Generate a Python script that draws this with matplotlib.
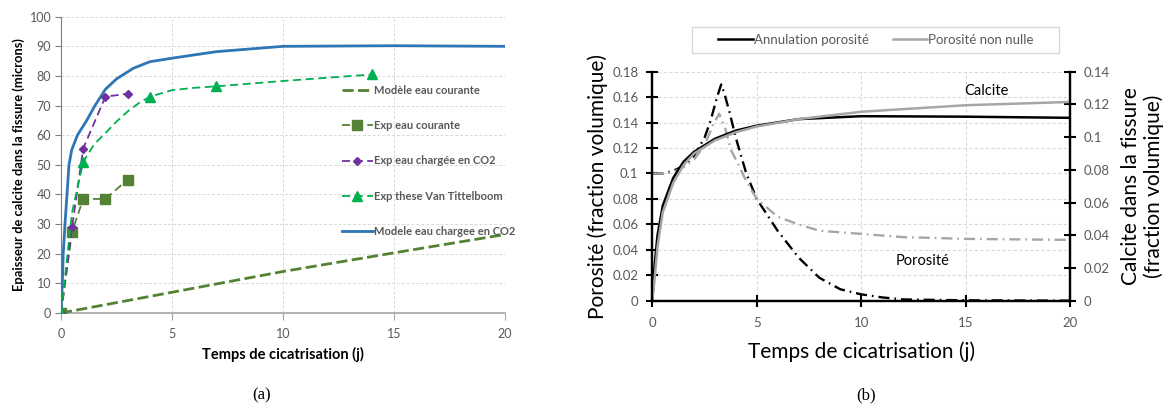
import matplotlib
matplotlib.use('Agg')
import matplotlib.pyplot as plt
from matplotlib.patches import Rectangle
from matplotlib.ticker import FuncFormatter

plt.rcParams['font.family'] = ['Lato', 'DejaVu Sans']

# ---- panel (a) data: calcite thickness (microns) vs time (days)
mod_courante_x = [0, 5, 10, 15, 20]
mod_courante_y = [0, 7, 14, 20.3, 26.5]

exp_courante_x = [0, 0.5, 1, 2, 3]
exp_courante_y = [0, 27.5, 38.5, 38.5, 45]

exp_co2_x = [0, 0.5, 1, 2, 3]
exp_co2_y = [0, 29, 55.5, 73, 74]

vt_x = [0, 0.5, 1, 1.5, 2, 2.5, 3, 3.5, 4, 5, 6, 7, 10, 14]
vt_y = [0, 34, 51, 57, 60.7, 64.6, 68, 70.8, 73, 75.2, 76, 76.5, 78.3, 80.5]
vt_marked = [0, 2, 8, 11, 13]

mod_co2_x = [0, 0.06, 0.1, 0.18, 0.27, 0.36, 0.48, 0.74, 1.16, 1.53, 2, 2.5,
             3.26, 4, 5, 7, 10, 15, 20]
mod_co2_y = [0, 10, 20, 30, 40, 50, 55, 60, 65, 70, 75.5, 79,
             82.6, 84.8, 86, 88.2, 90, 90.2, 90]

# ---- panel (b) data
# porosity (left axis)
por_annul_x = [0, 0.5, 1, 1.5, 2, 2.5, 2.8, 3.1, 3.3, 3.45, 3.7, 4, 4.5, 5,
               6, 7, 8, 9, 10, 11, 12, 15, 20]
por_annul_y = [0.1, 0.1, 0.102, 0.106, 0.114, 0.128, 0.142, 0.16, 0.17, 0.163,
               0.148, 0.128, 0.1, 0.08, 0.055, 0.034, 0.018, 0.009, 0.005,
               0.0026, 0.001, 0.0003, 0.0]
por_nonnul_x = [0, 0.5, 1, 1.5, 2, 2.5, 2.9, 3.2, 3.5, 3.75, 4, 4.5, 5, 6, 7,
                8, 10, 12, 15, 20]
por_nonnul_y = [0.1, 0.1, 0.101, 0.105, 0.111, 0.122, 0.138, 0.147, 0.135,
                0.119, 0.111, 0.094, 0.08, 0.066, 0.060, 0.055, 0.0525, 0.050,
                0.0486, 0.0478]
# calcite (right axis)
calc_x = [0, 0.1, 0.25, 0.5, 1, 1.5, 2, 3, 4, 5, 7, 10, 15, 20]
calc_annul_y = [0, 0.02, 0.04, 0.058, 0.075, 0.085, 0.091, 0.099, 0.104,
                0.107, 0.111, 0.1128, 0.1125, 0.1118]
calc_nonnul_y = [0, 0.012, 0.033, 0.054, 0.072, 0.083, 0.09, 0.098, 0.103,
                 0.1065, 0.111, 0.1155, 0.1195, 0.1215]

W, H = 1164, 408
fig = plt.figure(figsize=(W / 100, H / 100), dpi=100)


def box(l, t, r, b):
    return [l / W, 1 - b / H, (r - l) / W, (b - t) / H]


txtgray = '#595959'
olive = '#548235'
purple = '#7030A0'
green = '#00B050'
blue = '#2E75B6'

# ================= panel (a)
ax = fig.add_axes(box(61, 16.7, 505, 313))
ax.plot(mod_courante_x, mod_courante_y, color=olive, lw=2, ls=(0, (4, 1.6)),
        label='Modèle eau courante', zorder=3)
ax.plot(exp_courante_x, exp_courante_y, color=olive, lw=1.3, ls=(0, (4.5, 2.5)),
        marker='s', ms=6.5, label='Exp eau courante', zorder=4)
ax.plot(exp_co2_x, exp_co2_y, color=purple, lw=1.3, ls=(0, (4.5, 2.5)),
        marker='D', ms=4.5, label='Exp eau chargée en CO2', zorder=4)
ax.plot(vt_x, vt_y, color=green, lw=1.3, ls=(0, (4.5, 2.5)),
        marker='^', ms=7.5, markevery=vt_marked,
        label='Exp these Van Tittelboom', zorder=4)
ax.plot(mod_co2_x, mod_co2_y, color=blue, lw=2, label='Modele eau chargee en CO2',
        zorder=3)

ax.set_xlim(0, 20)
ax.set_ylim(0, 100)
ax.set_xticks([0, 5, 10, 15, 20])
ax.set_yticks(range(0, 101, 10))
ax.grid(True, color='#D9D9D9', ls=(0, (3, 2)), lw=0.7)
ax.set_axisbelow(True)
for s in ['top', 'right']:
    ax.spines[s].set_visible(False)
ax.spines['left'].set_color('#7F7F7F')
ax.spines['bottom'].set_color('#A6A6A6')
ax.spines['bottom'].set_linewidth(1.2)
ax.tick_params(axis='x', direction='out', length=5, color='#A6A6A6',
               labelsize=9, labelcolor=txtgray, pad=6)
ax.tick_params(axis='y', direction='out', length=4, color='#7F7F7F',
               labelsize=9, labelcolor=txtgray, pad=3)
ax.set_xlabel('Temps de cicatrisation (j)', fontsize=10.5, fontweight='bold',
              labelpad=5)
ax.set_ylabel('Epaisseur de calcite dans la fissure (microns)', fontsize=9.3,
              fontweight='bold', labelpad=3)
leg = ax.legend(loc='upper left', bbox_to_anchor=(336 / W, 1 - 79 / H),
                bbox_transform=fig.transFigure, frameon=False,
                handlelength=2.8, handletextpad=0.1, labelspacing=2.2,
                borderpad=0, prop={'weight': 'bold', 'size': 8})
for t in leg.get_texts():
    t.set_color(txtgray)

fig.text(262 / W, 1 - 395 / H, '(a)', ha='center', va='center',
         family='Liberation Serif', fontsize=12)

# ================= panel (b)
bx = fig.add_axes(box(652.3, 71.7, 1070, 300.7))
bx2 = bx.twinx()
fmt = FuncFormatter(lambda v, p: '%g' % round(v, 4))

dashdot = (0, (4.7, 2.1, 0.7, 2.1))
bx.plot(por_annul_x, por_annul_y, color='black', lw=1.7, ls=dashdot)
bx.plot(por_nonnul_x, por_nonnul_y, color='#A6A6A6', lw=1.7, ls=dashdot)
bx2.plot(calc_x, calc_annul_y, color='black', lw=1.8, label='Annulation porosité')
bx2.plot(calc_x, calc_nonnul_y, color='#A6A6A6', lw=1.8, label='Porosité non nulle')

bx.set_xlim(0, 20)
bx.set_ylim(0, 0.18)
bx2.set_ylim(0, 0.14)
bx.set_xticks([0, 5, 10, 15, 20])
bx.set_yticks([i * 0.02 for i in range(10)])
bx2.set_yticks([i * 0.02 for i in range(8)])
bx.yaxis.set_major_formatter(fmt)
bx2.yaxis.set_major_formatter(fmt)
bx.grid(True, color='#D9D9D9', ls=(0, (3, 2)), lw=0.8)
bx.set_axisbelow(True)
for a in (bx, bx2):
    a.spines['top'].set_visible(False)
    for s in ['left', 'right', 'bottom']:
        a.spines[s].set_linewidth(1.6)
        a.spines[s].set_color('black')
    a.tick_params(direction='inout', length=8, width=1.5, color='black',
                  labelsize=9.5, labelcolor=txtgray)
bx.tick_params(axis='x', pad=8)
bx.tick_params(axis='y', pad=6)
bx2.tick_params(axis='y', pad=6)

bx.set_xlabel('Temps de cicatrisation (j)', fontsize=15, labelpad=9)
bx.set_ylabel('Porosité (fraction volumique)', fontsize=15, labelpad=3)
bx2.set_ylabel('Calcite dans la fissure\n(fraction volumique)', fontsize=15,
               labelpad=8, rotation=90, linespacing=1.15)

bx.text(16.0, 0.165, 'Calcite', fontsize=10.5, ha='center', va='center')
bx.text(12.95, 0.0315, 'Porosité', fontsize=10.5, ha='center', va='center')

# legend with its light frame on top of the panel
fig.add_artist(Rectangle((692 / W, 1 - 53 / H), (1059 - 692) / W, 26 / H,
                         transform=fig.transFigure, fill=False,
                         edgecolor='#D9D9D9', lw=1))
leg2 = bx2.legend(loc='center', bbox_to_anchor=(876 / W, 1 - 40 / H),
                  bbox_transform=fig.transFigure, ncol=2, frameon=False,
                  fontsize=9.5, handlelength=2.6, handletextpad=0.1,
                  columnspacing=1.8, borderpad=0)
for t in leg2.get_texts():
    t.set_color(txtgray)

fig.text(866 / W, 1 - 395 / H, '(b)', ha='center', va='center',
         family='Liberation Serif', fontsize=12)

fig.savefig('out.png', dpi=100)
